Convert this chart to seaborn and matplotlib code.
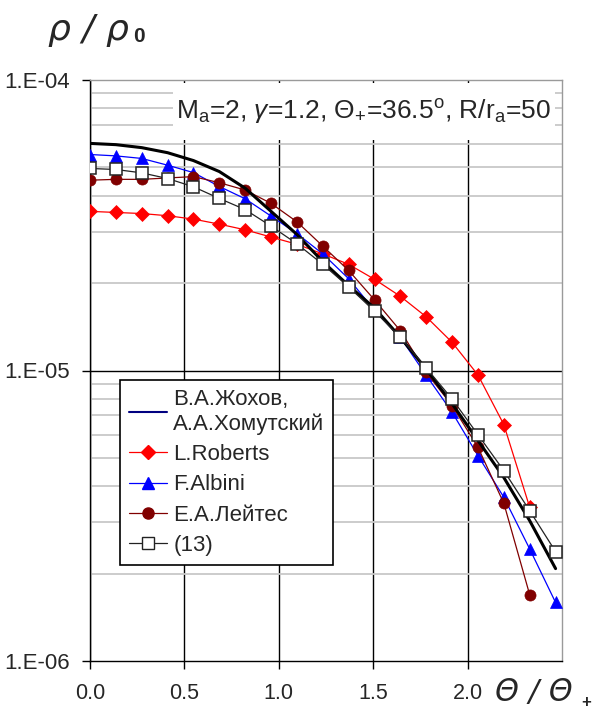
import matplotlib
matplotlib.use("Agg")
import matplotlib.pyplot as plt
from matplotlib.lines import Line2D
from matplotlib.patches import Rectangle
from matplotlib.ticker import LogLocator, NullFormatter
import seaborn as sns

# theta / theta_+ (every 5 degrees, theta_+ = 36.5 deg)
theta_rel = [0.000, 0.137, 0.274, 0.411, 0.548, 0.685, 0.822, 0.959, 1.096, 1.233,
             1.370, 1.507, 1.644, 1.781, 1.918, 2.055, 2.192, 2.329, 2.466]

# rho / rho_0
rho_zhokhov = [6.05e-5, 5.99e-5, 5.85e-5, 5.62e-5, 5.28e-5, 4.84e-5, 4.24e-5, 3.53e-5,
               2.94e-5, 2.37e-5, 1.96e-5, 1.64e-5, 1.30e-5, 1.01e-5, 7.68e-6, 5.74e-6,
               4.28e-6, 3.04e-6, 2.08e-6]
rho_roberts = [3.53e-5, 3.50e-5, 3.47e-5, 3.41e-5, 3.32e-5, 3.19e-5, 3.05e-5, 2.88e-5,
               2.72e-5, 2.52e-5, 2.32e-5, 2.06e-5, 1.80e-5, 1.53e-5, 1.25e-5, 9.65e-6,
               6.51e-6, 3.38e-6]
rho_albini = [5.54e-5, 5.48e-5, 5.37e-5, 5.09e-5, 4.80e-5, 4.30e-5, 3.90e-5, 3.40e-5,
              2.96e-5, 2.52e-5, 2.07e-5, 1.61e-5, 1.30e-5, 9.62e-6, 7.18e-6, 5.09e-6,
              3.66e-6, 2.43e-6, 1.59e-6]
rho_leites = [4.52e-5, 4.55e-5, 4.55e-5, 4.60e-5, 4.65e-5, 4.43e-5, 4.18e-5, 3.76e-5,
              3.25e-5, 2.68e-5, 2.21e-5, 1.75e-5, 1.37e-5, 9.85e-6, 7.57e-6, 5.44e-6,
              3.49e-6, 1.69e-6]
rho_eq13 = [4.96e-5, 4.92e-5, 4.79e-5, 4.58e-5, 4.29e-5, 3.91e-5, 3.58e-5, 3.14e-5,
            2.73e-5, 2.32e-5, 1.94e-5, 1.60e-5, 1.30e-5, 1.02e-5, 7.98e-6, 6.01e-6,
            4.52e-6, 3.29e-6, 2.38e-6]

labels = ["В.А.Жохов,\nА.А.Хомутский", "L.Roberts", "F.Albini", "Е.А.Лейтес", "(13)"]
x_ticks = [0.0, 0.5, 1.0, 1.5, 2.0]
x_ticklabels = ["0.0", "0.5", "1.0", "1.5", "2.0"]
y_ticks = [1e-6, 1e-5, 1e-4]
y_ticklabels = ["1.E-06", "1.E-05", "1.E-04"]

sns.set_style("white")
plt.rcParams["font.family"] = ["Liberation Sans", "DejaVu Sans"]
plt.rcParams["mathtext.fontset"] = "custom"
plt.rcParams["mathtext.rm"] = "Liberation Sans"
plt.rcParams["mathtext.it"] = "Liberation Sans:italic"

W, H = 593, 717
fig = plt.figure(figsize=(W / 100, H / 100), dpi=100)
ax = fig.add_axes([90 / W, 1 - 661 / H, 472 / W, 581 / H])

RED, BLUE, MAROON = "#ff0000", "#0000ff", "#800000"

sns.lineplot(x=theta_rel[:len(rho_roberts)], y=rho_roberts, ax=ax, color=RED, lw=0.9,
             marker="D", markersize=7, markeredgecolor=RED, markeredgewidth=0.5,
             sort=False, zorder=3)
sns.lineplot(x=theta_rel, y=rho_albini, ax=ax, color=BLUE, lw=0.9,
             marker="^", markersize=9, markeredgecolor=BLUE, markeredgewidth=0.5,
             sort=False, zorder=3)
sns.lineplot(x=theta_rel[:len(rho_leites)], y=rho_leites, ax=ax, color=MAROON, lw=0.9,
             marker="o", markersize=8, markeredgecolor=MAROON, markeredgewidth=0.5,
             sort=False, zorder=4)
sns.lineplot(x=theta_rel, y=rho_zhokhov, ax=ax, color="black", lw=2.2,
             sort=False, zorder=5)
sns.lineplot(x=theta_rel, y=rho_eq13, ax=ax, color="#222222", lw=0.9,
             marker="s", markersize=8.5, markerfacecolor="white",
             markeredgecolor="#222222", markeredgewidth=1.1, sort=False, zorder=6)

ax.set_xlim(0, 2.5)
ax.set_yscale("log")
ax.set_ylim(1e-6, 1e-4)
ax.set_xticks(x_ticks, labels=x_ticklabels)
ax.set_yticks(y_ticks, labels=y_ticklabels)
ax.yaxis.set_minor_locator(LogLocator(base=10, subs=range(2, 10)))
ax.yaxis.set_minor_formatter(NullFormatter())
ax.tick_params(axis="both", which="major", direction="out", length=6, width=1,
               color="black", labelsize=15.5, left=True, bottom=True)
ax.tick_params(axis="x", which="major", pad=10)
ax.tick_params(axis="y", which="major", pad=8.5, labelsize=16)
ax.tick_params(axis="y", which="minor", length=0)
ax.set_xlabel("")
ax.set_ylabel("")

ax.grid(True, axis="x", which="major", color="black", lw=1)
ax.grid(True, axis="y", which="minor", color="#c8c8c8", lw=1.3)
ax.axhline(1e-5, color="black", lw=1, zorder=1.5)
for side in ("left", "bottom"):
    ax.spines[side].set_color("black")
    ax.spines[side].set_linewidth(1)
for side in ("top", "right"):
    ax.spines[side].set_color("#9a9a9a")
    ax.spines[side].set_linewidth(1)

# white panel behind the parameter line
ax.add_patch(Rectangle((0.176, 0.897), 0.809, 0.098, transform=ax.transAxes,
                       facecolor="white", edgecolor="none", zorder=1.7))
ax.text(0.579, 0.945,
        r"M$_\mathrm{a}$=2, $\mathit{\gamma}$=1.2, $\mathit{\Theta}_\mathrm{+}$=36.5$^\mathrm{o}$, R/r$_\mathrm{a}$=50",
        transform=ax.transAxes, ha="center", va="center", fontsize=19, zorder=8)

handles = [Line2D([], [], color="#000080", lw=1.5),
           Line2D([], [], color=RED, lw=0.9, marker="D", markersize=7),
           Line2D([], [], color=BLUE, lw=0.9, marker="^", markersize=9),
           Line2D([], [], color=MAROON, lw=0.9, marker="o", markersize=8),
           Line2D([], [], color="#222222", lw=0.9, marker="s", markersize=8.5,
                  markerfacecolor="white", markeredgecolor="#222222")]
leg = ax.legend(handles, labels, loc="upper left",
                bbox_to_anchor=(120 / W, 1 - 380 / H), bbox_transform=fig.transFigure,
                fontsize=16, frameon=True, fancybox=False, shadow=False,
                edgecolor="black", framealpha=1, handlelength=1.7, handletextpad=0.3,
                labelspacing=0.42, borderpad=0.4, borderaxespad=0)
leg.get_frame().set_linewidth(1.2)
leg.set_zorder(10)

# axis captions
fig.text(48 / W, 1 - 30 / H, "ρ / ρ", fontsize=26, style="italic",
         family=["DejaVu Sans"], va="center", ha="left")
fig.text(133 / W, 1 - 36 / H, "0", fontsize=15, weight="bold", va="center", ha="left")
fig.text(495 / W, 1 - 692 / H, "Θ / Θ", fontsize=22, style="italic",
         family=["DejaVu Sans"], va="center", ha="left")
fig.text(581 / W, 1 - 702 / H, "+", fontsize=12, weight="bold", va="center", ha="left")

fig.savefig("out.png", dpi=100)
